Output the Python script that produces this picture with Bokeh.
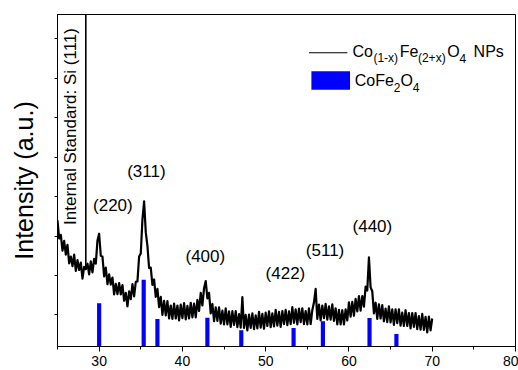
import numpy as np
from bokeh.plotting import figure
from bokeh.models import Range1d, SingleIntervalTicker, FixedTicker
from bokeh.core.properties import value
from bokeh.embed import file_html
from bokeh.resources import INLINE

# ---------------- data ----------------
two_theta_start = 25.0
two_theta_step = 0.2
intensity = [
    320, 274, 283, 243, 268, 233, 258, 211, 228, 204,
    233, 192, 219, 194, 213, 172, 202, 196, 210, 183,
    216, 188, 222, 210, 269, 286, 230, 228, 178, 200,
    158, 183, 157, 175, 132, 159, 133, 161, 132, 156,
    116, 136, 102, 140, 120, 158, 127, 164, 165, 228,
    236, 322, 368, 290, 255, 199, 200, 156, 170, 126,
    146, 100, 126, 80, 116, 79, 115, 71, 104, 70,
    109, 71, 104, 66, 106, 72, 110, 69, 103, 71,
    111, 74, 109, 74, 118, 90, 136, 104, 148, 166,
    122, 136, 84, 108, 64, 99, 65, 99, 58, 91,
    56, 97, 56, 89, 50, 90, 55, 90, 49, 82,
    48, 125, 47, 80, 41, 81, 47, 84, 44, 79,
    46, 88, 48, 83, 45, 86, 52, 89, 49, 84,
    51, 93, 53, 88, 50, 90, 57, 93, 54, 89,
    57, 100, 60, 94, 56, 96, 62, 97, 57, 90,
    56, 97, 57, 92, 112, 146, 70, 106, 66, 104,
    72, 108, 68, 102, 68, 107, 65, 97, 56, 93,
    56, 92, 56, 94, 66, 112, 76, 113, 78, 121,
    89, 128, 91, 128, 101, 152, 142, 226, 150, 140,
    84, 111, 70, 107, 71, 105, 64, 96, 62, 102,
    61, 94, 55, 94, 59, 94, 53, 86, 52, 92,
    52, 85, 46, 85, 50, 85, 44, 77, 43, 83,
    42, 75, 36, 76, 41, 71,
]
two_theta = [round(two_theta_start + i * two_theta_step, 1) for i in range(len(intensity))]

# internal standard Si(111) reflection (off scale)
si_position = 28.4
si_base = 196
si_peak = 20000

# reference pattern CoFe2O4
ref_positions = [30.0, 35.35, 37.0, 43.0, 47.07, 53.35, 56.87, 62.47, 65.7]
ref_intensity = [110, 169, 70, 73, 41, 47, 64, 72, 32]

# hkl labels
hkl_labels = ["(220)", "(311)", "(400)", "(422)", "(511)", "(440)"]
hkl_x = [31.65, 35.67, 42.75, 52.37, 57.13, 62.81]
hkl_y = [357, 444, 228, 186, 243, 304]

y_ticks = [80, 180, 280, 380, 480, 580, 680, 780]

FONT = "Liberation Sans"

# ---------------- figure ----------------
p = figure(width=518, height=370, output_backend="svg", toolbar_location=None,
           x_range=Range1d(25, 80), y_range=Range1d(0, 842),
           min_border_left=57, min_border_right=3, min_border_top=14, min_border_bottom=24)
p.background_fill_color = "white"
p.border_fill_color = "white"
p.outline_line_color = "black"
p.outline_line_width = 1
p.xgrid.visible = False
p.ygrid.visible = False

# x axis
p.xaxis.ticker = SingleIntervalTicker(interval=10, num_minor_ticks=2)
p.xaxis.major_tick_out = 5
p.xaxis.major_tick_in = 0
p.xaxis.minor_tick_out = 3
p.xaxis.minor_tick_in = 0
p.xaxis.major_label_text_font = FONT
p.xaxis.major_label_text_font_size = "14px"
p.xaxis.major_label_text_color = "black"
p.xaxis.major_label_standoff = 4
p.xaxis.axis_line_color = "black"

# y axis
p.yaxis.ticker = FixedTicker(ticks=y_ticks, minor_ticks=[])
p.yaxis.major_label_overrides = {t: "" for t in y_ticks}
p.yaxis.major_tick_out = 3
p.yaxis.major_tick_in = 0
p.yaxis.major_label_standoff = 0
p.yaxis.axis_label = "Intensity (a.u.)"
p.yaxis.axis_label_text_font = FONT
p.yaxis.axis_label_text_font_size = "25px"
p.yaxis.axis_label_text_font_style = "normal"
p.yaxis.axis_label_text_color = "black"
p.yaxis.axis_label_standoff = 17
p.yaxis.axis_line_color = "black"

# reference bars
p.vbar(x=ref_positions, top=ref_intensity, bottom=0, width=0.5,
       fill_color="#0000FF", line_color=None)

# measured pattern
p.line(two_theta, intensity, line_color="black", line_width=2.2, line_join="round")
p.segment(x0=[si_position], y0=[si_base], x1=[si_position], y1=[si_peak],
          line_color="black", line_width=1.6)

# hkl labels
p.text(x=hkl_x, y=hkl_y, text=hkl_labels, text_font=value(FONT), text_font_size="17px",
       text_align="center", text_baseline="middle", text_color="black")

p.text(x=[26.6], y=[558], text=["Internal Standard: Si (111)"], angle=np.pi / 2,
       text_font=value(FONT), text_font_size="17px", text_align="center",
       text_baseline="middle", text_color="black")

# legend (manual, for sub-scripts)
p.line(x=[55.2, 59.81], y=[745, 745], line_color="black", line_width=1.2)
p.quad(left=[55.49], right=[60.13], bottom=[651], top=[698],
       fill_color="#0000FF", line_color=None)

def piece(x, y, s, size):
    p.text(x=[x], y=[y], text=[s], text_font=value(FONT), text_font_size=size,
           text_align="left", text_baseline="middle", text_color="black")

def px2x(px):
    return 25 + (px - 56.6) / 8.333

# line 1: Co(1-x)Fe(2+x)O4  NPs
piece(px2x(351.7), 748, "Co", "16px")
piece(px2x(372.7), 731, "(1-x)", "12px")
piece(px2x(399.0), 748, "Fe", "16px")
piece(px2x(417.3), 731, "(2+x)", "12px")
piece(px2x(446.7), 748, "O", "16px")
piece(px2x(459.0), 731, "4", "12px")
piece(px2x(473.0), 748, "NPs", "16px")
# line 2: CoFe2O4
piece(px2x(354.0), 674, "CoFe", "16px")
piece(px2x(393.1), 658, "2", "12px")
piece(px2x(399.8), 674, "O", "16px")
piece(px2x(412.2), 658, "4", "12px")

open("out.html", "w").write(file_html(p, INLINE))
